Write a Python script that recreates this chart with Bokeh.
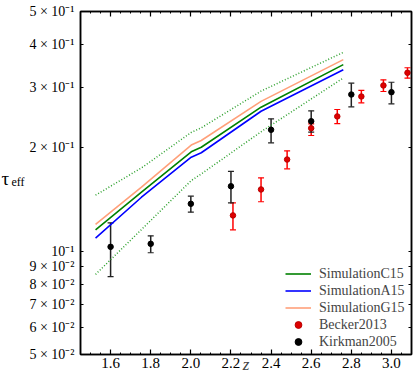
from bokeh.plotting import figure
from bokeh.layouts import row
from bokeh.models import (Range1d, FixedTicker, SingleIntervalTicker, LinearAxis, LogAxis,
                          Legend, LegendItem, Whisker, TeeHead, ColumnDataSource,
                          PrintfTickFormatter)
from bokeh.core.properties import value
from bokeh.embed import file_html
from bokeh.resources import INLINE

# ---- data ----
sim_z = [1.525, 1.754, 2.002, 2.052, 2.35, 2.76]
simC15 = [0.1155, 0.1486, 0.195, 0.201, 0.263, 0.350]
simA15 = [0.1092, 0.1437, 0.188, 0.1937, 0.256, 0.338]
simG15 = [0.1197, 0.1537, 0.204, 0.2103, 0.2735, 0.362]
simC15_upper = [0.1457, 0.1750, 0.222, 0.229, 0.293, 0.380]
simC15_lower = [0.0856, 0.1157, 0.1607, 0.168, 0.223, 0.320]

becker_z = [2.21, 2.35, 2.48, 2.60, 2.73, 2.85, 2.96, 3.08]
becker_tau = [0.1272, 0.1514, 0.1851, 0.2284, 0.2472, 0.2826, 0.3043, 0.3314]
becker_hi = [0.1384, 0.1637, 0.1963, 0.2353, 0.2590, 0.2943, 0.3161, 0.3428]
becker_lo = [0.1155, 0.1394, 0.1739, 0.2175, 0.2357, 0.2709, 0.2922, 0.3196]

kirk_z = [1.6, 1.8, 2.0, 2.2, 2.4, 2.6, 2.8, 3.0]
kirk_tau = [0.1030, 0.1051, 0.1375, 0.1547, 0.2260, 0.2394, 0.2864, 0.2909]
kirk_hi = [0.1210, 0.1109, 0.1447, 0.1709, 0.2433, 0.2567, 0.3090, 0.3110]
kirk_lo = [0.0843, 0.0990, 0.1300, 0.1384, 0.2071, 0.2224, 0.2637, 0.2691]

y_ticks = [0.05, 0.06, 0.07, 0.08, 0.09, 0.1, 0.2, 0.3, 0.4, 0.5]
y_tick_labels = ["5 × 10⁻²", "6 × 10⁻²", "7 × 10⁻²", "8 × 10⁻²", "9 × 10⁻²",
                 "10⁻¹", "2 × 10⁻¹", "3 × 10⁻¹", "4 × 10⁻¹", "5 × 10⁻¹"]
x_label = "z"
y_label_main = "τ"
y_label_sub = "eff"

FONT = "Liberation Serif"

p = figure(width=390, height=386, x_range=Range1d(1.45, 3.1), y_range=Range1d(0.05, 0.5),
           y_axis_type="log", output_backend="svg", toolbar_location=None,
           min_border_left=52, min_border_right=5, min_border_top=11, min_border_bottom=32)
p.grid.visible = False
p.outline_line_color = "black"
p.outline_line_width = 1.5

def style_axis(ax, labels=True):
    ax.axis_line_width = 1.5
    ax.major_tick_in = 5
    ax.major_tick_out = 0
    ax.minor_tick_in = 2
    ax.minor_tick_out = 0
    ax.major_tick_line_width = 1.2
    ax.major_label_text_font = FONT
    ax.major_label_text_font_size = "14px"
    ax.major_label_text_color = "black"
    if not labels:
        ax.major_label_text_alpha = 0
        ax.major_label_text_font_size = "1px"

p.xaxis.ticker = SingleIntervalTicker(interval=0.2, num_minor_ticks=4)
p.xaxis.formatter = PrintfTickFormatter(format="%.1f")
style_axis(p.xaxis[0])
p.xaxis.major_label_text_font_size = "15px"
p.xaxis.major_label_standoff = 3
p.xaxis.axis_label = x_label
p.xaxis.axis_label_text_font = FONT
p.xaxis.axis_label_text_font_style = "italic"
p.xaxis.axis_label_text_font_size = "17px"
p.xaxis.axis_label_standoff = -16

p.yaxis.ticker = FixedTicker(ticks=y_ticks, minor_ticks=[])
p.yaxis.major_label_overrides = {t: l for t, l in zip(y_ticks, y_tick_labels)}
style_axis(p.yaxis[0])
p.yaxis.major_label_text_font_size = "14px"
p.yaxis.major_tick_in = 3
p.yaxis.major_label_standoff = 6

top = LinearAxis(ticker=SingleIntervalTicker(interval=0.2, num_minor_ticks=4))
style_axis(top, labels=False)
p.add_layout(top, "above")
right = LogAxis(ticker=FixedTicker(ticks=y_ticks, minor_ticks=[]))
style_axis(right, labels=False)
right.major_tick_in = 3
p.add_layout(right, "right")

dot = "1 2"
r_up = p.line(sim_z, simC15_upper, line_color="#2ca02c", line_width=1.5, line_dash=dot)
r_lo = p.line(sim_z, simC15_lower, line_color="#2ca02c", line_width=1.5, line_dash=dot)
rC = p.line(sim_z, simC15, line_color="#008000", line_width=1.6)
rA = p.line(sim_z, simA15, line_color="#0000ff", line_width=1.6)
rG = p.line(sim_z, simG15, line_color="#ffa07a", line_width=1.6)

bsrc = ColumnDataSource(dict(x=becker_z, y=becker_tau, hi=becker_hi, lo=becker_lo))
ksrc = ColumnDataSource(dict(x=kirk_z, y=kirk_tau, hi=kirk_hi, lo=kirk_lo))

p.add_layout(Whisker(source=bsrc, base="x", upper="hi", lower="lo", line_color="red", line_width=1.5,
                     upper_head=TeeHead(size=6, line_color="red", line_width=1.2),
                     lower_head=TeeHead(size=6, line_color="red", line_width=1.2)))
rB = p.scatter("x", "y", source=bsrc, size=5.5, fill_color="#dd0000", line_color="#bb0000")

p.add_layout(Whisker(source=ksrc, base="x", upper="hi", lower="lo", line_color="#222222", line_width=1.5,
                     upper_head=TeeHead(size=6, line_color="#222222", line_width=1.2),
                     lower_head=TeeHead(size=6, line_color="#222222", line_width=1.2)))
rK = p.scatter("x", "y", source=ksrc, size=5.5, fill_color="black", line_color="black")

legend = Legend(items=[LegendItem(label="SimulationC15", renderers=[rC]),
                       LegendItem(label="SimulationA15", renderers=[rA]),
                       LegendItem(label="SimulationG15", renderers=[rG]),
                       LegendItem(label="Becker2013", renderers=[rB]),
                       LegendItem(label="Kirkman2005", renderers=[rK])],
                location=(203, 2), border_line_alpha=0, background_fill_alpha=0,
                label_text_font=FONT, label_text_font_size="14px", glyph_width=26,
                glyph_height=17, label_height=17, spacing=0, padding=2, margin=0,
                label_standoff=8)
p.add_layout(legend)

# narrow strip on the left holding the y-axis title (tau with subscript)
lf = figure(width=26, height=386, x_range=Range1d(0, 26), y_range=Range1d(0, 386),
            output_backend="svg", toolbar_location=None, min_border=0,
            x_axis_location=None, y_axis_location=None)
lf.grid.visible = False
lf.outline_line_color = None
tsrc = ColumnDataSource(dict(x=[1, 11], y=[198, 194], t=[y_label_main, y_label_sub],
                             s=["19px", "12px"]))
lf.text(x="x", y="y", text="t", source=tsrc, text_font=value(FONT), text_font_size="s",
        text_baseline="alphabetic", text_align="left", text_color="black")

layout = row(lf, p, spacing=0)
open("out.html", "w").write(file_html(layout, INLINE))
